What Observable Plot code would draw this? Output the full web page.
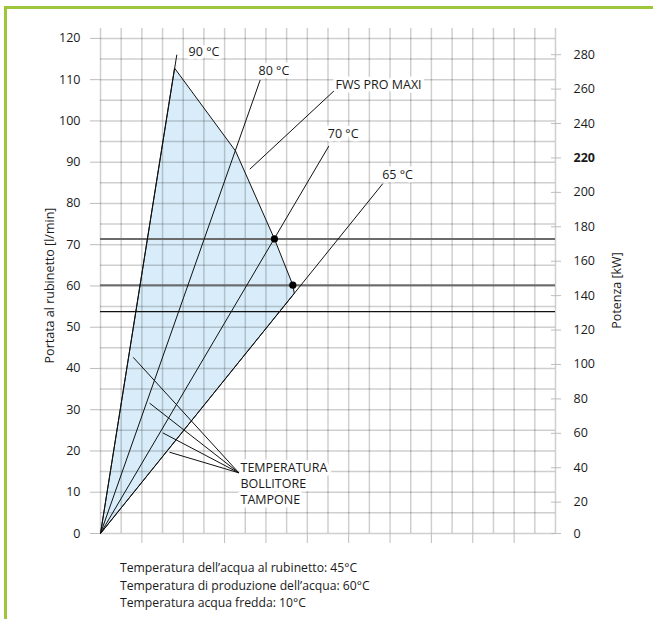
<!DOCTYPE html>
<html>
<head>
<meta charset="utf-8">
<script src="https://cdn.jsdelivr.net/npm/d3@7"></script>
<script src="https://cdn.jsdelivr.net/npm/@observablehq/plot@0.6"></script>
<style>
  html, body { margin: 0; padding: 0; background: #fff; overflow: hidden; }
  #wrap { position: relative; width: 653px; height: 619px; font-family: "Open Sans", sans-serif; }
  #frame { position: absolute; left: 4px; top: 6px; width: 700px; height: 700px;
           border-top: 3px solid #9dc63b; border-left: 3px solid #9dc63b; }
  #chart { position: absolute; left: 0; top: 0; }
  #notes { position: absolute; left: 120px; top: 559px; font-size: 12.2px; line-height: 17.5px; color: #1a1a1a; }
</style>
</head>
<body>
<div id="wrap">
  <div id="frame"></div>
  <div id="chart"></div>
  <div id="notes"></div>
</div>
<script>
// ---- data ----
const yTicks = [0, 10, 20, 30, 40, 50, 60, 70, 80, 90, 100, 110, 120];          // l/min
const kwTicks = [0, 20, 40, 60, 80, 100, 120, 140, 160, 180, 200, 220, 240, 260, 280]; // kW
const xTicks = [2, 4, 6, 8, 10, 12, 14, 16, 18, 20];
const xGrid = d3.range(0, 23, 1);
const yGrid = d3.range(0, 121, 5);
const xMax = 22, yTop = 122.4;

// temperature lines from origin (end points)
const lineLabels = ["90 °C", "80 °C", "70 °C", "65 °C"];
const lineEndX = [3.69, 7.72, 11.04, 13.65];
const lineEndY = [116.05, 109.9, 93.9, 84.8];

// FWS PRO MAXI operating area
const areaX = [0, 3.58, 6.53, 8.41, 9.30, 9.37, 0];
const areaY = [0, 112.8, 92.7, 71.4, 60.2, 58.2, 0];

// marked points
const dotX = [8.41, 9.30];
const dotY = [71.4, 60.2];

// horizontal reference levels (l/min)
const refStrong = [71.4, 60.2];
const refThin = [53.8];

// leader lines
const fwsLeader = {x1: 7.22, y1: 88.3, x2: 11.36, y2: 107.6};
const tempLeaderX = [1.58, 2.37, 3.01, 3.34];
const tempLeaderY = [42.7, 31.6, 24.4, 19.7];
const tempLeaderEnd = {x: 6.69, y: 14.7};

// labels
const labelText = ["90 °C", "80 °C", "FWS PRO MAXI", "70 °C", "65 °C", "TEMPERATURA\nBOLLITORE\nTAMPONE"];
const labelX = [4.26, 7.64, 11.36, 10.99, 13.62, 6.77];
const labelY = [117.1, 112.5, 109.0, 97.1, 87.2, 12.3];

const notes = [
  "Temperatura dell’acqua al rubinetto: 45°C",
  "Temperatura di produzione dell’acqua: 60°C",
  "Temperatura acqua fredda: 10°C"
];

const kwToLpm = k => Math.max(0, -0.75 + 0.41716 * k);
const kwPos = kwTicks.map(kwToLpm);
const kwLabel = new Map(kwTicks.map((k, i) => [kwPos[i], k]));

const lines = lineEndX.map((x, i) => ({name: lineLabels[i], x1: 0, y1: 0, x2: x, y2: lineEndY[i]}));
const area = areaX.map((x, i) => ({x, y: areaY[i]}));
const dots = dotX.map((x, i) => ({x, y: dotY[i]}));
const tempLeaders = tempLeaderX.map((x, i) => ({x1: x, y1: tempLeaderY[i], x2: tempLeaderEnd.x, y2: tempLeaderEnd.y}));
const labels = labelText.map((t, i) => ({t, x: labelX[i], y: labelY[i]}));

const gridStyle = {stroke: "#000", strokeOpacity: 0.19, strokeWidth: 1.5};
const FS = 12.5;

const chart = Plot.plot({
  width: 653,
  height: 555,
  marginLeft: 100,
  marginRight: 98,
  marginTop: 28,
  marginBottom: 22,
  style: {fontFamily: "Open Sans, sans-serif", fontSize: FS + "px", color: "#1a1a1a", background: "transparent"},
  x: {domain: [0, xMax], axis: null},
  y: {domain: [0, yTop], axis: null},
  marks: [
    Plot.line(area, {x: "x", y: "y", fill: "#d8edf9", stroke: "none"}),
    Plot.ruleX(xGrid, {x: d => d, y1: 0, y2: yTop, ...gridStyle}),
    Plot.ruleY(yGrid, {y: d => d, x1: 0, x2: xMax, ...gridStyle}),
    Plot.ruleY(refStrong, {y: d => d, x1: 0, x2: xMax, stroke: "#6b6b6b", strokeWidth: 2}),
    Plot.ruleY(refThin, {y: d => d, x1: 0, x2: xMax, stroke: "#111", strokeWidth: 1.2}),
    Plot.line(area, {x: "x", y: "y", stroke: "#111", strokeWidth: 1}),
    Plot.link(lines, {x1: "x1", y1: "y1", x2: "x2", y2: "y2", stroke: "#111", strokeWidth: 1}),
    Plot.link([fwsLeader], {x1: "x1", y1: "y1", x2: "x2", y2: "y2", stroke: "#111", strokeWidth: 1}),
    Plot.link(tempLeaders, {x1: "x1", y1: "y1", x2: "x2", y2: "y2", stroke: "#111", strokeWidth: 1}),
    Plot.dot(dots, {x: "x", y: "y", r: 3.6, fill: "#000"}),
    Plot.text(labels, {x: "x", y: "y", text: "t", textAnchor: "start", lineAnchor: "middle", lineHeight: 1.3,
      fontSize: FS, fill: "#1a1a1a", stroke: "white", strokeWidth: 7, paintOrder: "stroke"}),
    Plot.axisY(yTicks, {anchor: "left", tickSize: 10, tickPadding: 10, stroke: "#bdbdbd", fill: "#1a1a1a", fontSize: FS, label: null}),
    Plot.axisY(kwPos, {anchor: "right", tickSize: 10, tickPadding: 13, dx: -5, stroke: "#bdbdbd", fill: "#1a1a1a",
      fontSize: FS, label: null, tickFormat: d => kwLabel.get(d)}),
    Plot.axisX(xTicks, {anchor: "bottom", tickSize: 10, stroke: "#bdbdbd", tickFormat: () => "", label: null}),
    Plot.text(["Portata al rubinetto [l/min]"], {frameAnchor: "left", dx: -51, dy: 4.5, rotate: -90,
      textAnchor: "middle", lineAnchor: "middle", fontSize: FS, fill: "#1a1a1a"}),
    Plot.text(["Potenza [kW]"], {frameAnchor: "right", dx: 61, dy: 9.5, rotate: -90,
      textAnchor: "middle", lineAnchor: "middle", fontSize: FS, fill: "#1a1a1a"})
  ]
});

d3.select(chart).selectAll("text").filter(function () { return this.textContent === "220"; })
  .attr("font-weight", "bold");

document.getElementById("chart").appendChild(chart);
document.getElementById("notes").innerHTML = notes.map(n => `<div>${n}</div>`).join("");
</script>
</body>
</html>
